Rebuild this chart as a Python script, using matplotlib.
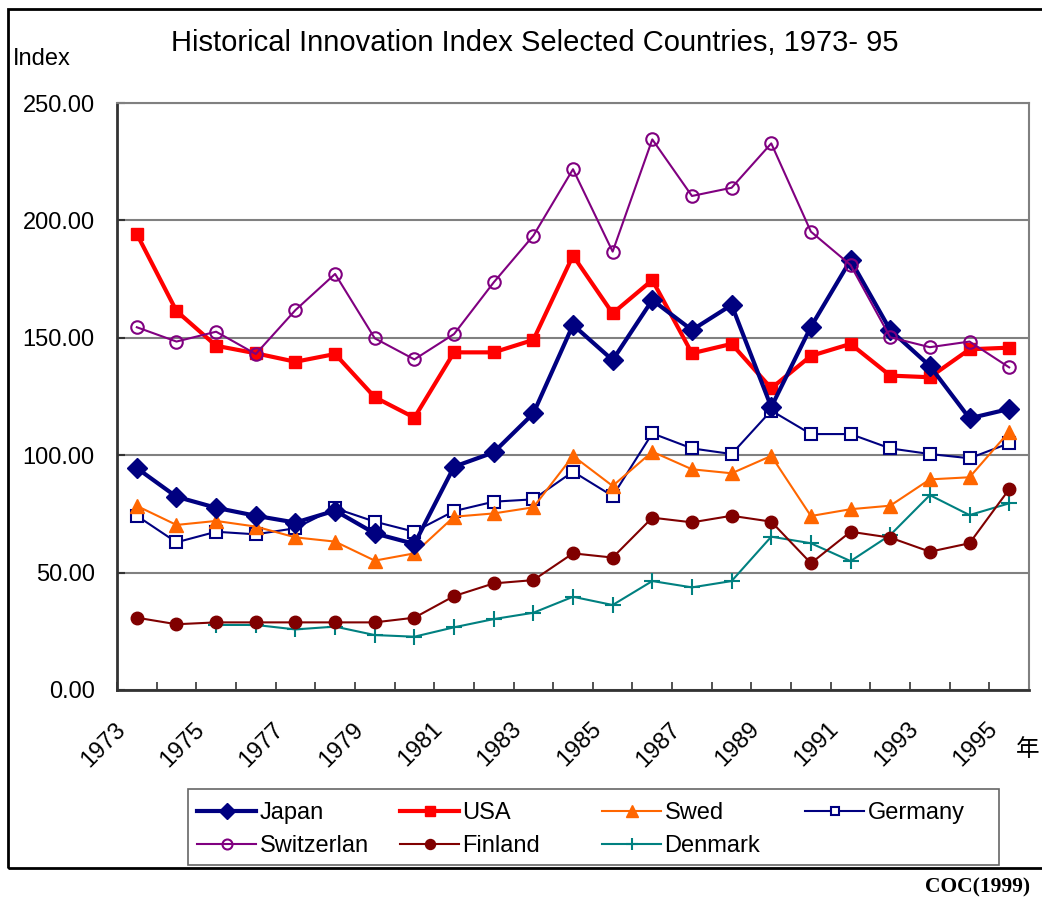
import numpy as np
import matplotlib
matplotlib.use('Agg')
import matplotlib.pyplot as plt
from matplotlib.patches import Rectangle
from matplotlib.transforms import ScaledTranslation

plt.rcParams['font.family'] = ['Liberation Sans', 'Noto Sans CJK JP', 'DejaVu Sans']

# Data
years = list(range(1973, 1996))
tick_labels = [str(y) for y in years[::2]]

japan = [94.5, 82.3, 77.6, 74.2, 71.3, 76.4, 66.7, 62.2, 95.1, 101.2, 117.8, 155.5,
         140.5, 166.1, 153.3, 164.0, 120.5, 154.7, 183.1, 153.3, 138.0, 115.7, 119.7]
usa = [194.2, 161.4, 146.6, 143.4, 139.8, 143.1, 124.7, 116.0, 143.8, 143.8, 149.1, 185.0,
       160.4, 174.6, 143.4, 147.4, 128.5, 142.3, 147.4, 133.9, 133.2, 145.1, 145.8]
swed = [78.4, 70.3, 72.0, 69.6, 65.0, 63.2, 55.1, 58.2, 73.8, 75.2, 77.8, 99.7,
        86.9, 101.5, 94.0, 92.3, 99.7, 74.1, 77.0, 78.5, 89.7, 90.6, 110.0]
germany = [74.2, 62.9, 67.4, 66.3, 68.9, 77.4, 71.7, 67.4, 76.2, 80.2, 81.2, 93.0,
           82.6, 109.3, 102.9, 100.5, 119.0, 109.0, 109.0, 102.9, 100.5, 98.7, 105.1]
switzerland = [154.5, 148.4, 152.6, 143.1, 161.8, 177.2, 149.8, 140.8, 151.6, 173.6, 193.5, 221.8,
               186.7, 234.5, 210.4, 213.9, 232.8, 195.2, 181.0, 150.2, 146.0, 148.4, 137.4]
finland = [30.8, 28.0, 28.8, 28.8, 28.8, 28.8, 28.8, 30.8, 40.0, 45.4, 46.8, 58.2,
           56.4, 73.4, 71.4, 74.2, 71.7, 54.0, 67.4, 64.9, 58.9, 62.5, 85.5]
denmark = [np.nan, np.nan, 27.7, 27.7, 25.8, 27.0, 23.4, 22.7, 26.7, 30.2, 32.9, 39.7,
           36.2, 46.4, 43.7, 46.4, 65.3, 62.5, 54.9, 66.0, 83.0, 74.5, 79.5]

W, H = 1042, 900
fig = plt.figure(figsize=(W / 100, H / 100), dpi=100)
ax = fig.add_axes([117 / W, 1 - 690 / H, (1029 - 117) / W, (690 - 103) / H])

x = np.arange(len(years))

l_jp, = ax.plot(x, japan, color='#000080', lw=3.0, marker='D', ms=10.5, label='Japan', zorder=3)
l_us, = ax.plot(x, usa, color='#FF0000', lw=3.0, marker='s', ms=9, label='USA', zorder=2.9)
l_sw, = ax.plot(x, swed, color='#FF6600', lw=1.5, marker='^', ms=10, label='Swed', zorder=2.8)
l_de, = ax.plot(x, germany, color='#000080', lw=1.5, marker='s', ms=8, mfc='white', mew=1.5,
                label='Germany', zorder=2.7)
l_ch, = ax.plot(x, switzerland, color='#800080', lw=1.5, marker='o', ms=9, mfc='none', mew=1.5,
                label='Switzerlan', zorder=3.1)
l_fi, = ax.plot(x, finland, color='#800000', lw=1.5, marker='o', ms=9, label='Finland', zorder=2.6)
l_dk, = ax.plot(x, denmark, color='#008080', lw=1.5, marker='+', ms=11, mew=1.5,
                label='Denmark', zorder=2.5)

ax.set_xlim(-0.5, len(years) - 0.5)
ax.set_ylim(0, 250)
ax.set_yticks(np.arange(0, 251, 50))
ax.set_yticklabels(['%.2f' % v for v in np.arange(0, 251, 50)], fontsize=17)
ax.tick_params(axis='y', direction='in', length=6, width=1.5, color='#333333', pad=16)
ax.yaxis.grid(True, color='#808080', lw=1.5)
ax.set_axisbelow(True)

ax.set_xticks(x[::2])
ax.set_xticklabels(tick_labels, fontsize=17, rotation=45, ha='right', va='center',
                   rotation_mode='anchor')
ax.set_xticks(np.arange(-0.5, len(years), 1), minor=True)
ax.tick_params(axis='x', which='major', length=0, pad=26)
ax.tick_params(axis='x', which='minor', direction='in', length=6, width=1.2, color='#333333')
shift = ScaledTranslation(-0.15, 0, fig.dpi_scale_trans)
for lab in ax.get_xticklabels():
    lab.set_transform(lab.get_transform() + shift)

for s in ['left', 'bottom']:
    ax.spines[s].set_color('#333333')
    ax.spines[s].set_linewidth(2)
for s in ['top', 'right']:
    ax.spines[s].set_color('#808080')
    ax.spines[s].set_linewidth(1.5)

# texts
fig.text(535 / W, 1 - 43 / H, 'Historical Innovation Index Selected Countries, 1973- 95',
         ha='center', va='center', fontsize=21)
fig.text(13 / W, 1 - 59 / H, 'Index', ha='left', va='center', fontsize=17)
fig.text(1028 / W, 1 - 750 / H, '年', ha='center', va='center', fontsize=17,
         family=['Noto Sans CJK JP'])
fig.text(1030 / W, 1 - 887 / H, 'COC(1999)', ha='right', va='center', fontsize=15.5,
         family='Liberation Serif', weight='bold')

# legend: four columns laid out like the original
columns = [[l_jp, l_ch], [l_us, l_fi], [l_sw, l_dk], [l_de]]
col_x = [197, 400, 602, 805]
for handles, cx in zip(columns, col_x):
    leg = fig.legend(handles=handles, loc='upper left', bbox_to_anchor=(cx / W, 1 - 802 / H),
                     frameon=False, fontsize=17, handlelength=2.5, handletextpad=0.15,
                     borderpad=0, borderaxespad=0, labelspacing=0.47, markerscale=0.8)

fig.patches.append(Rectangle((188 / W, 1 - 865 / H), (999 - 188) / W, (865 - 789) / H,
                             transform=fig.transFigure, fill=False, edgecolor='#666666', lw=1.2))
fig.patches.append(Rectangle((8 / W, 1 - 868 / H), 1.1, (868 - 9) / H,
                             transform=fig.transFigure, fill=False, edgecolor='black', lw=2))

fig.savefig('out.png', dpi=100)
